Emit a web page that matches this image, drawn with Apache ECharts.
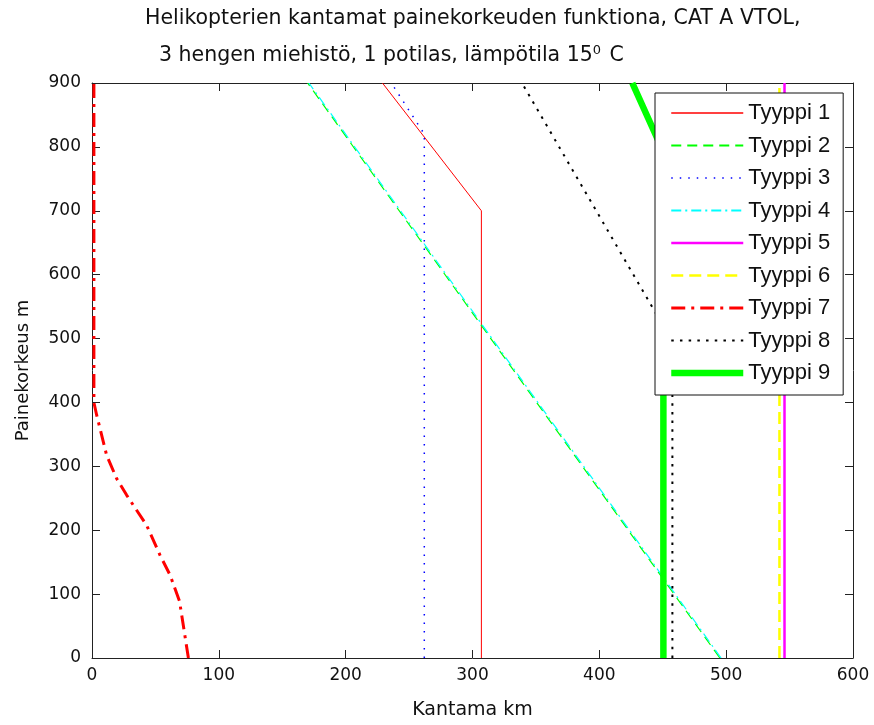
<!DOCTYPE html>
<html>
<head>
<meta charset="utf-8">
<script src="https://cdn.jsdelivr.net/npm/echarts@6/dist/echarts.min.js"></script>
<style>html,body{margin:0;padding:0;background:#fff}#c{width:874px;height:725px}</style>
</head>
<body>
<div id="c"></div>
<script>
// Data: each series is a list of [range km, pressure altitude m]
const seriesNames = ['Tyyppi 1','Tyyppi 2','Tyyppi 3','Tyyppi 4','Tyyppi 5','Tyyppi 6','Tyyppi 7','Tyyppi 8','Tyyppi 9'];
const tyyppi1 = [[307,0],[307,700],[229,900]];
const tyyppi2 = [[495,0],[170,900]];
const tyyppi3 = [[262,0],[262,820],[236,900]];
const tyyppi4 = [[496,0],[171,900]];
const tyyppi5 = [[546,0],[546,900]];
const tyyppi6 = [[542,0],[542,900]];
const tyyppi7 = [[76,0],[69,89],[61.5,130],[53.6,161],[43,208],[27.3,255],[19.4,281],[11.6,317],[3.7,380],[1.5,400],[1.5,900]];
const tyyppi8 = [[457.6,0],[457.6,495],[339,900]];
const tyyppi9 = [[450.5,0],[450.5,792],[426,900]];
const xTicks = [0,100,200,300,400,500,600];
const yTicks = [0,100,200,300,400,500,600,700,800,900];
const titleLine1 = 'Helikopterien kantamat painekorkeuden funktiona, CAT A VTOL,';
const titleLine2 = '3 hengen miehistö, 1 potilas, lämpötila 15{sup|0} C';
const xName = 'Kantama km';
const yName = 'Painekorkeus m';

const FONT = 'DejaVu Sans';
const LFONT = 'Liberation Sans';
const TXT = '#111';
const styles = [
  {color:'#ff0000', width:1, legendWidth:1.6, type:'solid'},
  {color:'#00ff00', width:1.2, legendWidth:1.8, type:[10,6]},
  {color:'#0000ff', width:1.5, legendWidth:1.6, type:[1.5,7]},
  {color:'#00ffff', width:1.2, legendWidth:1.8, type:[10,4,2,4]},
  {color:'#ff00ff', width:2.5, legendWidth:2.5, type:'solid'},
  {color:'#ffff00', width:2.5, legendWidth:2.5, type:[12,6]},
  {color:'#ff0000', width:3, legendWidth:3, type:[14,6,3,6]},
  {color:'#000000', width:2, legendWidth:2, type:[2.5,6.2]},
  {color:'#00ff00', width:6.5, legendWidth:6.5, type:'solid'}
];
const datas = [tyyppi1,tyyppi2,tyyppi3,tyyppi4,tyyppi5,tyyppi6,tyyppi7,tyyppi8,tyyppi9];

const axisCommon = {
  axisLine:{show:true, onZero:false, lineStyle:{color:'#222', width:1}},
  axisTick:{show:true, inside:true, length:8, lineStyle:{color:'#222'}},
  splitLine:{show:false}
};

const chart = echarts.init(document.getElementById('c'));
chart.setOption({
  animation:false,
  backgroundColor:'#fff',
  textStyle:{fontFamily:FONT},
  title:[
    {text:titleLine1, left:145, top:8, padding:0, textStyle:{fontFamily:FONT, fontSize:20.5, fontWeight:'normal', color:TXT}},
    {text:titleLine2, left:159, top:44, padding:0, textStyle:{fontFamily:FONT, fontSize:20.5, fontWeight:'normal', color:TXT,
      rich:{sup:{fontFamily:FONT, fontSize:13, verticalAlign:'top', padding:[0,2,11,0], color:TXT}}}}
  ],
  grid:{left:92, top:83, width:761, height:577, containLabel:false},
  xAxis:[
    Object.assign({type:'value', min:0, max:600, interval:100, position:'bottom',
      name:xName, nameLocation:'middle', nameGap:43,
      nameTextStyle:{fontFamily:FONT, fontSize:19, color:TXT},
      axisLabel:{fontFamily:FONT, fontSize:17, color:TXT, margin:9}}, axisCommon),
    Object.assign({type:'value', min:0, max:600, interval:100, position:'top',
      axisLabel:{show:false}}, axisCommon)
  ],
  yAxis:[
    Object.assign({type:'value', min:0, max:900, interval:100, position:'left',
      name:yName, nameLocation:'middle', nameGap:60, nameRotate:90,
      nameTextStyle:{fontFamily:FONT, fontSize:18, color:TXT},
      axisLabel:{fontFamily:FONT, fontSize:17, color:TXT, margin:11}}, axisCommon),
    Object.assign({type:'value', min:0, max:900, interval:100, position:'right',
      axisLabel:{show:false}}, axisCommon)
  ],
  legend:{
    orient:'vertical', left:655, top:93, z:20,
    backgroundColor:'#fff', borderColor:'#111', borderWidth:1,
    padding:[9,13,11,13], itemGap:10.5, itemWidth:72, itemHeight:14,
    itemStyle:{opacity:0, borderWidth:0},
    textStyle:{fontFamily:LFONT, fontSize:22, lineHeight:22, color:TXT},
    data:seriesNames.map((n,i)=>({name:n, lineStyle:{color:styles[i].color, width:styles[i].legendWidth, type:styles[i].type, opacity:1}}))
  },
  series: seriesNames.map((n,i)=>({
    name:n, type:'line', data:datas[i], xAxisIndex:0, yAxisIndex:0,
    showSymbol:false, symbol:'none', z:2,
    lineStyle:{color:styles[i].color, width:styles[i].width, type:styles[i].type},
    itemStyle:{color:styles[i].color}
  }))
});
</script>
</body>
</html>
